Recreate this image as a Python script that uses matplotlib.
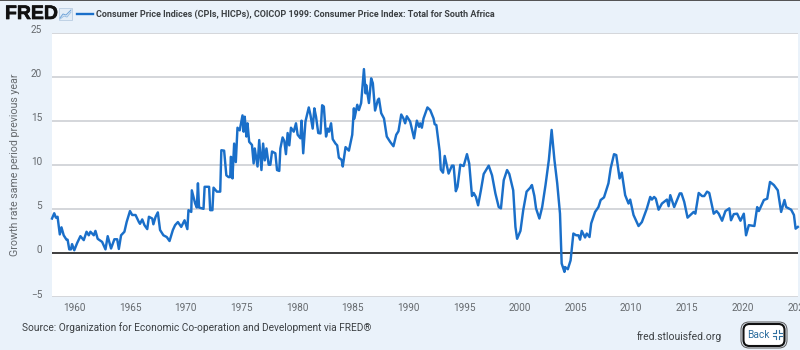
import matplotlib
matplotlib.use('Agg')
import matplotlib.pyplot as plt
import matplotlib.patheffects as pe
from matplotlib.patches import FancyBboxPatch, Rectangle
from matplotlib.transforms import ScaledTranslation

# CPI growth for South Africa
years = [1958.0, 1958.2, 1958.35, 1958.5, 1958.7, 1958.85, 1959.05, 1959.3, 1959.4, 1959.55, 1959.7, 1959.8,
         1960.0, 1960.25, 1960.55, 1960.85, 1961.1, 1961.3, 1961.45, 1961.75, 1961.9, 1962.1, 1962.5, 1962.8,
         1963.0, 1963.3, 1963.6, 1963.85, 1964.0, 1964.2, 1964.5, 1964.7, 1965.0, 1965.2, 1965.5, 1965.8,
         1965.9, 1966.1, 1966.3, 1966.55, 1966.7, 1967.0, 1967.1, 1967.3, 1967.5, 1967.7, 1968.0, 1968.3,
         1968.55, 1968.85, 1969.05, 1969.3, 1969.6, 1969.9, 1970.15, 1970.25, 1970.5, 1970.55, 1970.85, 1971.0,
         1971.1, 1971.2, 1971.6, 1971.7, 1972.1, 1972.2, 1972.4, 1972.5, 1972.8, 1973.1, 1973.2, 1973.45,
         1973.65, 1973.85, 1974.0, 1974.05, 1974.12, 1974.2, 1974.35, 1974.5, 1974.65, 1974.85, 1975.1, 1975.2,
         1975.3, 1975.45, 1975.55, 1975.7, 1975.95, 1976.1, 1976.2, 1976.45, 1976.6, 1976.8, 1976.95, 1977.1,
         1977.25, 1977.45, 1977.6, 1977.75, 1978.05, 1978.2, 1978.4, 1978.5, 1978.7, 1978.85, 1979.0, 1979.15,
         1979.3, 1979.45, 1979.7, 1979.9, 1980.05, 1980.3, 1980.4, 1980.55, 1980.75, 1981.05, 1981.2, 1981.4,
         1981.55, 1981.7, 1981.9, 1982.1, 1982.25, 1982.4, 1982.6, 1982.75, 1982.87, 1983.05, 1983.2, 1983.45,
         1983.6, 1983.75, 1984.0, 1984.1, 1984.35, 1984.65, 1984.95, 1985.1, 1985.15, 1985.4, 1985.55, 1985.75,
         1986.0, 1986.15, 1986.2, 1986.45, 1986.65, 1986.8, 1987.0, 1987.25, 1987.35, 1987.55, 1987.8, 1988.05,
         1988.35, 1988.65, 1988.9, 1989.1, 1989.35, 1989.55, 1989.7, 1989.85, 1990.15, 1990.5, 1990.75, 1990.95,
         1991.05, 1991.2, 1991.35, 1991.7, 1991.95, 1992.25, 1992.35, 1992.5, 1992.8, 1992.9, 1993.1, 1993.25,
         1993.6, 1993.9, 1994.05, 1994.25, 1994.4, 1994.65, 1994.95, 1995.25, 1995.45, 1995.7, 1995.85, 1996.05,
         1996.25, 1996.5, 1996.75, 1997.2, 1997.5, 1997.8, 1998.1, 1998.3, 1998.55, 1998.85, 1999.05, 1999.4,
         1999.6, 1999.75, 2000.05, 2000.3, 2000.6, 2000.93, 2001.08, 2001.3, 2001.45, 2001.75, 2002.0, 2002.3,
         2002.6, 2002.85, 2003.1, 2003.35, 2003.6, 2003.75, 2004.0, 2004.05, 2004.3, 2004.55, 2004.8, 2005.05,
         2005.25, 2005.4, 2005.55, 2005.85, 2006.0, 2006.25, 2006.4, 2006.75, 2007.05, 2007.25, 2007.55, 2007.95,
         2008.15, 2008.45, 2008.65, 2008.95, 2009.15, 2009.45, 2009.75, 2009.9, 2010.2, 2010.65, 2010.95, 2011.4,
         2011.7, 2011.85, 2012.05, 2012.2, 2012.45, 2012.75, 2013.2, 2013.35, 2013.5, 2013.85, 2014.35, 2014.5,
         2014.75, 2015.05, 2015.6, 2015.75, 2016.05, 2016.35, 2016.55, 2016.8, 2017.0, 2017.4, 2017.65, 2017.85,
         2018.15, 2018.45, 2018.8, 2018.95, 2019.2, 2019.5, 2019.8, 2020.1, 2020.3, 2020.55, 2021.05, 2021.3,
         2021.45, 2021.9, 2022.2, 2022.45, 2022.8, 2023.15, 2023.45, 2023.75, 2023.9, 2024.35, 2024.6, 2024.75,
         2024.95]
values = [3.9, 4.5, 4.0, 4.1, 2.1, 2.9, 2.0, 1.5, 1.5, 0.4, 0.4, 1.0,
          0.3, 1.1, 1.9, 1.45, 2.4, 2.0, 2.4, 2.0, 2.5, 1.6, 1.25, 0.4,
          1.9, 0.5, 1.55, 1.55, 0.45, 2.0, 2.4, 3.5, 4.75, 4.3, 4.3, 3.5,
          3.3, 3.8, 3.15, 2.7, 4.1, 3.9, 3.25, 4.1, 4.6, 2.6, 2.0, 1.8,
          1.35, 2.6, 3.15, 3.5, 2.95, 3.7, 2.7, 4.85, 4.65, 7.1, 5.6, 5.15,
          7.9, 5.15, 5.0, 7.5, 7.5, 4.85, 4.85, 7.4, 6.95, 6.95, 11.65, 11.6,
          8.8, 8.6, 8.6, 10.9, 10.8, 8.45, 12.4, 10.3, 14.2, 13.9, 15.6, 13.75,
          15.45, 13.2, 14.7, 12.6, 12.25, 10.15, 11.85, 9.8, 12.8, 9.4, 12.4, 10.5,
          11.85, 10.0, 10.0, 11.5, 11.3, 9.4, 9.3, 11.85, 13.1, 12.7, 11.2, 13.6,
          12.2, 14.2, 13.75, 14.7, 13.4, 13.0, 15.0, 11.3, 14.9, 16.5, 15.65, 14.1,
          16.4, 15.45, 13.6, 13.55, 16.75, 16.6, 13.2, 14.1, 13.75, 14.7, 12.9, 12.4,
          12.2, 10.8, 10.55, 9.8, 12.0, 11.6, 13.4, 16.4, 15.25, 16.8, 16.2, 17.0,
          20.85, 18.1, 19.05, 17.0, 19.8, 19.25, 16.15, 17.35, 17.5, 15.85, 15.25, 13.2,
          12.6, 12.1, 13.4, 13.8, 15.7, 15.25, 14.7, 15.5, 14.9, 13.0, 15.0, 14.3,
          14.7, 14.2, 15.25, 16.5, 16.2, 15.25, 14.6, 14.5, 11.5, 9.45, 9.1, 11.0,
          9.0, 9.9, 9.9, 7.0, 7.5, 10.0, 9.85, 11.2, 10.15, 6.45, 6.8, 6.35,
          5.4, 7.1, 8.95, 9.9, 8.8, 6.75, 5.2, 5.05, 8.25, 9.4, 8.95, 7.1,
          2.95, 1.6, 2.5, 4.85, 6.95, 7.4, 7.7, 6.45, 5.05, 3.9, 5.2, 7.7,
          10.55, 13.95, 10.55, 7.9, 4.45, -1.2, -2.15, -1.6, -1.85, -0.85, 2.2, 2.0,
          2.0, 1.5, 2.5, 1.75, 2.2, 1.8, 3.35, 4.65, 5.2, 6.0, 6.3, 7.9,
          9.6, 11.2, 11.1, 8.45, 9.1, 6.55, 5.6, 6.05, 4.3, 3.05, 3.5, 5.05,
          6.35, 6.05, 6.35, 6.15, 4.9, 5.6, 6.05, 5.3, 6.55, 5.2, 6.75, 6.75,
          5.8, 4.0, 4.65, 4.45, 6.8, 6.45, 6.45, 6.95, 6.8, 4.45, 4.75, 4.45,
          3.65, 4.75, 5.05, 3.7, 4.4, 4.45, 3.65, 4.45, 2.0, 3.15, 3.05, 5.2,
          4.75, 6.0, 6.15, 8.05, 7.7, 7.1, 4.65, 6.0, 5.2, 4.9, 4.3, 2.75,
          2.95]

y_ticks = [-5, 0, 5, 10, 15, 20, 25]
x_ticks = [1960, 1965, 1970, 1975, 1980, 1985, 1990, 1995, 2000, 2005, 2010, 2015, 2020, 2025]

bg = '#eaf2fa'
blue = '#1a6fc9'
grey = '#666a6e'
dark = '#3c4043'

plt.rcParams['font.family'] = ['Roboto', 'DejaVu Sans']

fig = plt.figure(figsize=(8, 3.5), dpi=100, facecolor=bg)
ax = fig.add_axes([52 / 800, 1 - 297 / 350, 746.4 / 800, 264.5 / 350])
ax.set_facecolor('white')

ax.plot(years, values, color=blue, lw=1.75, solid_joinstyle='round', clip_on=False, zorder=3)
ax.axhline(0, color='#333333', lw=1.3, zorder=2)

ax.set_xlim(1958, 2025)
ax.set_ylim(-5, 25)
ax.set_yticks(y_ticks)
ax.set_xticks(x_ticks)
ax.set_xticklabels([str(t) for t in x_ticks])
ax.grid(axis='y', color='#c9ccd1', lw=1.1, zorder=1)
ax.set_axisbelow(True)
for s in ax.spines.values():
    s.set_visible(False)
ax.tick_params(length=0, labelsize=7.2, labelcolor=grey)
ax.tick_params(axis='x', pad=4)
ax.tick_params(axis='y', pad=7)
# y tick labels sit a little above their gridlines
up = ScaledTranslation(0, 3.5 / 100, fig.dpi_scale_trans)
for lab in ax.get_yticklabels():
    lab.set_transform(lab.get_transform() + up)
ax.set_ylabel('Growth rate same period previous year', fontsize=7.7, color=grey)
ax.yaxis.set_label_coords(-32 / 746.4, 0.5)

# overlay in pixel coordinates for header, footer and button
ov = fig.add_axes([0, 0, 1, 1], facecolor='none')
ov.set_xlim(0, 800)
ov.set_ylim(350, 0)
ov.axis('off')

ov.add_patch(Rectangle((0, 0), 800, 1.2, color='#555555', lw=0))
ov.text(5, 14.5, 'FRED', fontsize=14, fontweight='bold', family='Liberation Sans', color='#111111',
        va='center', ha='left', path_effects=[pe.withStroke(linewidth=0.5, foreground='#111111')])
ov.add_patch(Rectangle((59, 8), 13, 12, fc='#e3edf7', ec='#b9cde2', lw=0.6))
ov.plot([60, 63, 66, 71], [18, 14, 15, 10], color='#6fa3d8', lw=0.7)
ov.plot([60, 64, 67, 71], [19, 16, 17, 12], color='#9bbfe3', lw=0.7)
ov.plot([77, 92.5], [14, 14], color=blue, lw=1.7)
ov.text(96, 14, 'Consumer Price Indices (CPIs, HICPs), COICOP 1999: Consumer Price Index: Total for South Africa',
        fontsize=6.44, fontweight='bold', color=dark, va='center', ha='left')

ov.text(22, 328, 'Source: Organization for Economic Co-operation and Development via FRED\u00ae',
        fontsize=7.3, color=dark, va='center', ha='left')
ov.text(637, 337, 'fred.stlouisfed.org', fontsize=7.5, color=dark, va='center', ha='left')

# Back button
ov.add_patch(FancyBboxPatch((743.5, 324), 41, 22, boxstyle='round,pad=0,rounding_size=6',
                            fc='white', ec='#111111', lw=1.5, zorder=2))
ov.add_patch(FancyBboxPatch((741, 322), 46, 26, boxstyle='round,pad=0,rounding_size=8',
                            fc='none', ec='#555555', lw=0.7, zorder=2))
ov.text(747.5, 335, 'Back', fontsize=7.3, color='#2f6f9f', va='center', ha='left', zorder=3)
for cx, cy, dx, dy in [(776, 333, -1, -1), (778.5, 333, 1, -1), (776, 336, -1, 1), (778.5, 336, 1, 1)]:
    ov.plot([cx + 3 * dx, cx, cx], [cy, cy, cy + 3 * dy], color='#2f6f9f', lw=0.8, zorder=3)

fig.savefig('out.png', dpi=100, facecolor=bg)
